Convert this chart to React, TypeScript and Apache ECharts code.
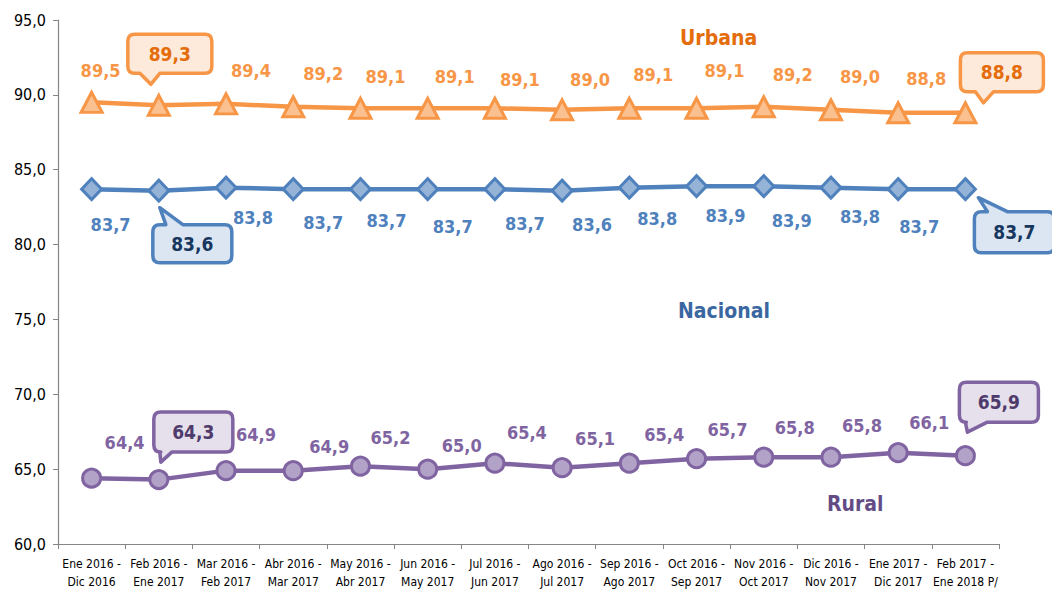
import React, { useEffect, useRef } from "react";
import * as echarts from "echarts";

const categories = [
  "Ene 2016 -\nDic 2016",
  "Feb 2016 -\nEne 2017",
  "Mar 2016 -\nFeb 2017",
  "Abr 2016 -\nMar 2017",
  "May 2016 -\nAbr 2017",
  "Jun 2016 -\nMay 2017",
  "Jul 2016 -\nJun 2017",
  "Ago 2016 -\nJul 2017",
  "Sep 2016 -\nAgo 2017",
  "Oct 2016 -\nSep 2017",
  "Nov 2016 -\nOct 2017",
  "Dic 2016 -\nNov 2017",
  "Ene 2017 -\nDic 2017",
  "Feb 2017 -\nEne 2018 P/",
];

const urbana = [89.5, 89.3, 89.4, 89.2, 89.1, 89.1, 89.1, 89.0, 89.1, 89.1, 89.2, 89.0, 88.8, 88.8];
const nacional = [83.7, 83.6, 83.8, 83.7, 83.7, 83.7, 83.7, 83.6, 83.8, 83.9, 83.9, 83.8, 83.7, 83.7];
const rural = [64.4, 64.3, 64.9, 64.9, 65.2, 65.0, 65.4, 65.1, 65.4, 65.7, 65.8, 65.8, 66.1, 65.9];

const yMin = 60;
const yMax = 95;
const yStep = 5;

const seriesNames = ["Urbana", "Nacional", "Rural"];

// label offsets (relative to marker centre), one per point
const urbanaLabelOffsets = [
  [9, -32], [0, 0], [25, -33], [30, -33], [25, -32], [27, -32], [25, -29],
  [28, -30], [24, -34], [28, -38], [29, -32], [29, -33], [28, -34], [0, 0],
];
const nacionalLabelOffsets = [
  [19, 35], [0, 0], [27, 30], [30, 33], [26, 31], [25, 37], [30, 34],
  [30, 34], [28, 31], [29, 29], [28, 34], [29, 29], [21, 37], [0, 0],
];
const ruralLabelOffsets = [
  [33, -36], [0, 0], [30, -36], [36, -24], [30, -29], [34, -24], [32, -31],
  [33, -29], [35, -29], [31, -29], [31, -30], [31, -32], [31, -30], [0, 0],
];

const calloutIndices = [1, 13];

type Callout = {
  s: number;
  index: number;
  box: number[]; // left, top, w, h relative to point
  side: "top" | "bottom";
  base: number[];
  tip: number[];
};

const callouts: Callout[] = [
  { s: 0, index: 1, box: [-31, -71, 84, 39], side: "bottom", base: [-19, 1], tip: [-8, -21] },
  { s: 0, index: 13, box: [-5, -60, 83, 39], side: "bottom", base: [10, 28], tip: [18, -10] },
  { s: 1, index: 1, box: [-6, 34, 79, 38], side: "top", base: [7, 24], tip: [1, 17] },
  { s: 1, index: 13, box: [9, 22.5, 80, 41], side: "top", base: [22, 42], tip: [13, 8.5] },
  { s: 2, index: 1, box: [-5, -67.5, 79, 40], side: "bottom", base: [1, 13], tip: [2, -17.5] },
  { s: 2, index: 13, box: [-6, -73.5, 79, 40], side: "bottom", base: [0, 22], tip: [2, -23.5] },
];

const FONT = "'DejaVu Sans Condensed', 'Liberation Sans Narrow', 'Open Sans', sans-serif";

const lineColors = ["#F79646", "#4F81BD", "#8064A2"];
const symbolFills = ["#FAC090", "#95B3D7", "#B3A2C7"];
const calloutFills = ["#FDEADA", "#DCE6F2", "#E6E0EC"];
const calloutText = ["#E46C0A", "#17375E", "#4F3B6B"];
const nameColors = ["#E46C0A", "#3A67A0", "#634C86"];

const fmt = (v: number) => v.toFixed(1).replace(".", ",");

function calloutPath(px: number, py: number, c: Callout) {
  const r = 7;
  const x0 = px + c.box[0];
  const y0 = py + c.box[1];
  const x1 = x0 + c.box[2];
  const y1 = y0 + c.box[3];
  const b1 = px + c.base[0];
  const b2 = px + c.base[1];
  const tx = px + c.tip[0];
  const ty = py + c.tip[1];
  if (c.side === "bottom") {
    return `M${x0 + r},${y0} H${x1 - r} Q${x1},${y0} ${x1},${y0 + r} V${y1 - r} Q${x1},${y1} ${x1 - r},${y1} H${b2} L${tx},${ty} L${b1},${y1} H${x0 + r} Q${x0},${y1} ${x0},${y1 - r} V${y0 + r} Q${x0},${y0} ${x0 + r},${y0} Z`;
  }
  return `M${x0 + r},${y0} H${b1} L${tx},${ty} L${b2},${y0} H${x1 - r} Q${x1},${y0} ${x1},${y0 + r} V${y1 - r} Q${x1},${y1} ${x1 - r},${y1} H${x0 + r} Q${x0},${y1} ${x0},${y1 - r} V${y0 + r} Q${x0},${y0} ${x0 + r},${y0} Z`;
}

export default function App() {
  const ref = useRef<HTMLDivElement>(null);

  useEffect(() => {
    if (!ref.current) return;
    const chart = echarts.init(ref.current, undefined, { renderer: "svg" });
    const allData = [urbana, nacional, rural];
    const allOffsets = [urbanaLabelOffsets, nacionalLabelOffsets, ruralLabelOffsets];
    const symbols = ["triangle", "diamond", "circle"];
    const symbolSizes: any[] = [[21, 20], [20, 21], 18];

    const lineSeries = allData.map((arr, s) => ({
      name: seriesNames[s],
      type: "line",
      data: arr.map((v, i) => ({
        value: v,
        label: calloutIndices.includes(i)
          ? { show: false }
          : { show: true, offset: allOffsets[s][i] },
      })),
      symbol: symbols[s],
      symbolSize: symbolSizes[s],
      showAllSymbol: true,
      lineStyle: { color: lineColors[s], width: 4.5 },
      itemStyle: { color: symbolFills[s], borderColor: lineColors[s], borderWidth: 3 },
      label: {
        show: true,
        position: "inside",
        formatter: (p: any) => fmt(p.value),
        color: lineColors[s],
        fontFamily: FONT,
        fontWeight: "bold",
        fontSize: 18,
      },
      emphasis: { disabled: true },
      z: 3,
    }));

    const calloutSeries = {
      type: "custom",
      coordinateSystem: "cartesian2d",
      data: callouts.map((c, k) => [c.index, allData[c.s][c.index], k]),
      encode: { x: 0, y: 1 },
      z: 10,
      silent: true,
      renderItem: (params: any, api: any) => {
        const k = api.value(2);
        const c = callouts[k];
        const pt = api.coord([api.value(0), api.value(1)]);
        const px = pt[0];
        const py = pt[1];
        const cx = px + c.box[0] + c.box[2] / 2;
        const cy = py + c.box[1] + c.box[3] / 2;
        return {
          type: "group",
          children: [
            {
              type: "path",
              shape: { pathData: calloutPath(px, py, c) },
              style: {
                fill: calloutFills[c.s],
                stroke: lineColors[c.s],
                lineWidth: 3.5,
                lineJoin: "round",
              },
            },
            {
              type: "text",
              style: {
                text: fmt(allData[c.s][c.index]),
                x: cx,
                y: cy,
                align: "center",
                verticalAlign: "middle",
                fill: calloutText[c.s],
                font: `bold 19px ${FONT}`,
              },
            },
          ],
        };
      },
    };

    chart.setOption({
      animation: false,
      backgroundColor: "#ffffff",
      grid: { left: 58, right: 53, top: 20, bottom: 48, containLabel: false },
      xAxis: {
        type: "category",
        data: categories,
        boundaryGap: true,
        axisLine: { show: true, lineStyle: { color: "#868686", width: 1.2 } },
        axisTick: { show: true, length: 5, alignWithLabel: false, lineStyle: { color: "#868686" } },
        axisLabel: {
          interval: 0,
          color: "#000",
          fontFamily: FONT,
          fontSize: 12,
          lineHeight: 18,
          margin: 11,
        },
        splitLine: { show: false },
      },
      yAxis: {
        type: "value",
        min: yMin,
        max: yMax,
        interval: yStep,
        axisLine: { show: true, lineStyle: { color: "#868686", width: 1.2 } },
        axisTick: { show: true, length: 5, lineStyle: { color: "#868686" } },
        axisLabel: {
          color: "#000",
          fontFamily: FONT,
          fontSize: 16,
          margin: 12,
          formatter: (v: number) => fmt(v),
        },
        splitLine: { show: false },
      },
      graphic: [
        {
          type: "text",
          left: 716 - 36,
          top: 27,
          style: { text: seriesNames[0], fill: nameColors[0], font: `bold 21px ${FONT}` },
        },
        {
          type: "text",
          left: 722 - 44,
          top: 300,
          style: { text: seriesNames[1], fill: nameColors[1], font: `bold 21px ${FONT}` },
        },
        {
          type: "text",
          left: 855 - 28,
          top: 493,
          style: { text: seriesNames[2], fill: nameColors[2], font: `bold 21px ${FONT}` },
        },
      ],
      series: [...lineSeries, calloutSeries],
    });

    return () => chart.dispose();
  }, []);

  return (
    <div
      ref={ref}
      style={{ position: "fixed", left: 0, top: 0, width: 1052, height: 592, background: "#fff" }}
    />
  );
}
